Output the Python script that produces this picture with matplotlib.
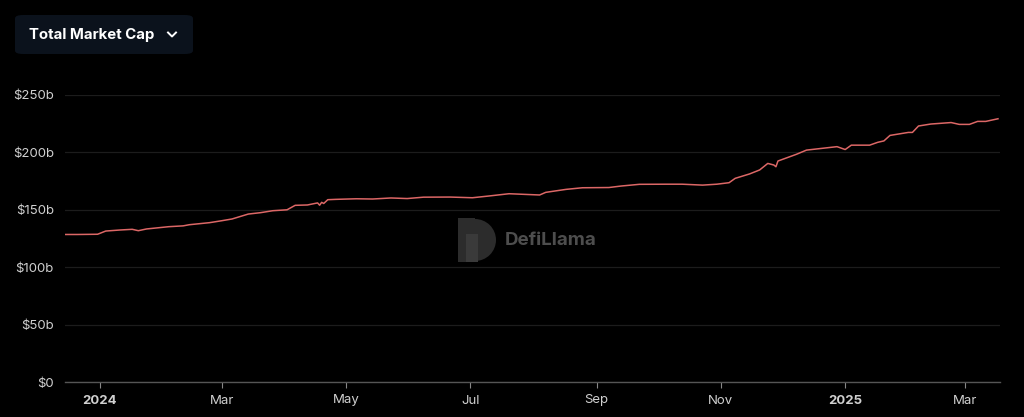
import matplotlib
matplotlib.use("Agg")
import matplotlib.pyplot as plt
from matplotlib.patches import FancyBboxPatch, Rectangle, Wedge
from matplotlib.lines import Line2D
from matplotlib.transforms import IdentityTransform
import pandas as pd

plt.rcParams['font.family'] = ['Inter', 'DejaVu Sans']

# total stablecoin market cap, billions USD
dates = [
    "2023-12-15", "2023-12-21", "2023-12-31", "2024-01-04", "2024-01-11", "2024-01-17",
    "2024-01-20", "2024-01-24", "2024-02-04", "2024-02-11", "2024-02-14", "2024-02-24",
    "2024-03-01", "2024-03-06", "2024-03-14", "2024-03-20", "2024-03-26", "2024-04-02",
    "2024-04-06", "2024-04-12", "2024-04-17", "2024-04-18", "2024-04-19", "2024-04-20",
    "2024-04-22", "2024-04-26", "2024-05-06", "2024-05-14", "2024-05-23", "2024-05-31",
    "2024-06-08", "2024-06-21", "2024-07-02", "2024-07-10", "2024-07-20", "2024-08-04",
    "2024-08-07", "2024-08-17", "2024-08-25", "2024-09-07", "2024-09-13", "2024-09-22",
    "2024-10-05", "2024-10-13", "2024-10-23", "2024-10-30", "2024-11-05", "2024-11-08",
    "2024-11-15", "2024-11-20", "2024-11-24", "2024-11-27", "2024-11-28", "2024-11-29",
    "2024-12-08", "2024-12-13", "2024-12-18", "2024-12-28", "2025-01-01", "2025-01-04",
    "2025-01-13", "2025-01-17", "2025-01-20", "2025-01-23", "2025-02-01", "2025-02-03",
    "2025-02-06", "2025-02-12", "2025-02-22", "2025-02-26", "2025-03-03", "2025-03-07",
    "2025-03-11", "2025-03-17",
]
market_cap = [
    128.5, 128.5, 128.7, 131.5, 132.4, 133.0,
    131.8, 133.3, 135.3, 136.0, 137.0, 138.8,
    140.5, 142.0, 146.3, 147.5, 149.2, 150.0,
    153.9, 154.2, 156.0, 154.0, 156.5, 155.5,
    158.8, 159.1, 159.6, 159.4, 160.3, 159.8,
    161.0, 161.1, 160.5, 162.0, 164.0, 162.9,
    165.2, 167.8, 169.2, 169.4, 170.7, 172.2,
    172.3, 172.3, 171.5, 172.3, 173.6, 177.4,
    181.2, 184.7, 190.4, 189.0, 187.5, 192.5,
    198.3, 202.0, 203.0, 205.0, 202.5, 206.3,
    206.3, 208.8, 210.0, 214.8, 217.4, 217.4,
    223.0, 224.7, 226.0, 224.4, 224.4, 227.0,
    227.0, 229.3,
]
y_ticks = [0, 50, 100, 150, 200, 250]
y_labels = ["$0", "$50b", "$100b", "$150b", "$200b", "$250b"]
x_ticks = ["2024-01-01", "2024-03-01", "2024-05-01", "2024-07-01",
           "2024-09-01", "2024-11-01", "2025-01-01", "2025-03-01"]
x_labels = ["2024", "Mar", "May", "Jul", "Sep", "Nov", "2025", "Mar"]

df = pd.DataFrame({"date": pd.to_datetime(dates), "mcap": market_cap})

W, H = 1024, 417
fig = plt.figure(figsize=(W / 100, H / 100), dpi=100, facecolor="#000000")
ax = fig.add_axes([65 / W, 1 - 382 / H, (1000 - 65) / W, (382 - 95) / H])
ax.set_facecolor("#000000")

ax.plot(df["date"], df["mcap"], color="#dc6766", linewidth=1.1)

ax.set_ylim(0, 250)
ax.set_xlim(pd.Timestamp("2023-12-15"), pd.Timestamp("2025-03-18"))
ax.set_yticks(y_ticks)
ax.set_yticklabels(y_labels)
ax.set_xticks(pd.to_datetime(x_ticks))
ax.set_xticklabels(x_labels)
for lbl, txt in zip(ax.get_xticklabels(), x_labels):
    if txt.isdigit():
        lbl.set_fontweight("bold")

ax.grid(axis="y", color="#1c1c1c", linewidth=0.9)
ax.set_axisbelow(True)
for side in ["top", "right", "left"]:
    ax.spines[side].set_visible(False)
ax.spines["bottom"].set_color("#555555")
ax.spines["bottom"].set_linewidth(1.0)
ax.tick_params(axis="y", length=0, pad=8, labelcolor="#d0d0d0", labelsize=9.5)
ax.tick_params(axis="x", length=4, color="#888888", pad=5,
               labelcolor="#d0d0d0", labelsize=9.5)

# watermark (D-shaped logo + name), drawn in pixel coordinates
px = IdentityTransform()
logo_col = "#2c2c2c"
fig.patches.append(Rectangle((458, H - 262), 17, 44, transform=px,
                             facecolor=logo_col, edgecolor="none", zorder=0))
fig.patches.append(Wedge((475, H - 240), 21, -90, 90, transform=px,
                         facecolor=logo_col, edgecolor="none", zorder=0))
fig.patches.append(Rectangle((466, H - 262), 12, 28, transform=px,
                             facecolor="#3a3a3a", edgecolor="none", zorder=0))
fig.text(505 / W, 1 - 241 / H, "DefiLlama", color="#4d4d4d", fontsize=13.5,
         fontweight="bold", va="center", ha="left")

# dropdown button
btn = FancyBboxPatch((15 / W, 1 - 54 / H), 178 / W, 39 / H,
                     boxstyle="round,pad=0.0,rounding_size=0.008",
                     transform=fig.transFigure, facecolor="#0b121c",
                     edgecolor="none")
fig.patches.append(btn)
fig.text(29 / W, 1 - 35 / H, "Total Market Cap", color="#ffffff",
         fontsize=10.8, fontweight="bold", va="center", ha="left")
fig.lines.append(Line2D([168 / W, 172 / W, 176 / W],
                        [1 - 32.5 / H, 1 - 36.5 / H, 1 - 32.5 / H],
                        transform=fig.transFigure, color="#ffffff",
                        linewidth=1.4))

fig.savefig("out.png", dpi=100, facecolor="#000000")
